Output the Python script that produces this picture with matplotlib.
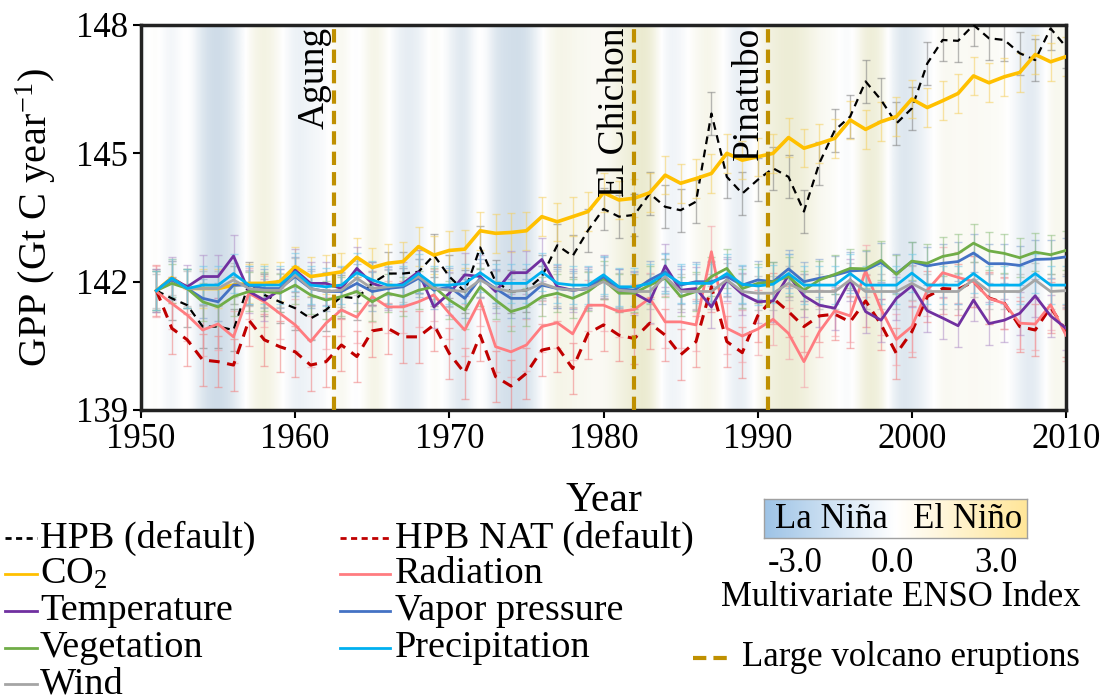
import numpy as np
import matplotlib
matplotlib.use('Agg')
import matplotlib.pyplot as plt
from matplotlib.colors import LinearSegmentedColormap
from matplotlib.lines import Line2D

plt.rcParams['font.family'] = ['Liberation Serif', 'DejaVu Serif']
plt.rcParams['mathtext.fontset'] = 'custom'
plt.rcParams['mathtext.rm'] = 'Liberation Serif'
plt.rcParams['mathtext.it'] = 'Liberation Serif:italic'

# --- data -----------------------------------------------------------------
years = np.arange(1951, 2011)

hpb = [141.79, 141.61, 141.45, 140.95, 140.95, 140.87, 141.96, 141.69, 141.53, 141.38,
       141.14, 141.34, 141.65, 141.61, 141.96, 142.19, 142.19, 142.23, 142.62, 142.12,
       141.77, 142.80, 142.00, 141.77, 141.80, 142.12, 142.85, 142.60, 143.20, 143.70,
       143.52, 143.56, 144.06, 143.75, 143.67, 143.87, 145.93, 144.45, 144.06, 144.38,
       144.65, 144.45, 143.64, 144.77, 145.54, 145.86, 146.68, 146.25, 145.70, 146.05,
       147.10, 147.65, 147.63, 148.00, 147.69, 147.65, 147.34, 147.18, 147.92, 147.49]
hpb_nat = [141.79, 140.91, 140.64, 140.17, 140.13, 140.05, 141.10, 140.64, 140.48, 140.36,
           140.05, 140.13, 140.52, 140.25, 140.85, 140.91, 140.71, 140.71, 140.99, 140.32,
           139.86, 140.75, 139.78, 139.56, 139.86, 140.40, 140.48, 139.97, 140.79, 140.99,
           140.75, 140.67, 141.03, 140.75, 140.29, 140.60, 141.88, 140.60, 140.34, 141.20,
           141.61, 141.30, 140.95, 141.20, 141.24, 141.06, 141.55, 141.00, 140.32, 140.83,
           141.65, 141.84, 141.82, 142.00, 141.62, 141.50, 140.95, 140.87, 141.40, 140.85]
co2 = [141.79, 142.09, 141.84, 141.84, 141.84, 141.92, 141.96, 141.96, 142.00, 142.35,
       142.12, 142.17, 142.23, 142.57, 142.33, 142.43, 142.47, 142.82, 142.62, 142.73,
       142.76, 143.19, 143.13, 143.15, 143.19, 143.52, 143.40, 143.52, 143.64, 144.08,
       143.91, 143.95, 144.08, 144.49, 144.30, 144.41, 144.53, 145.00, 144.84, 144.92,
       145.00, 145.37, 145.12, 145.23, 145.35, 145.78, 145.56, 145.74, 145.86, 146.27,
       146.07, 146.23, 146.40, 146.81, 146.65, 146.79, 146.89, 147.31, 147.14, 147.26]
radiation = [141.77, 141.49, 141.22, 140.87, 141.01, 140.71, 141.73, 141.53, 141.26, 140.99,
             140.60, 141.03, 141.34, 141.17, 141.65, 141.41, 141.41, 141.53, 141.69, 141.26,
             140.87, 141.57, 140.48, 140.36, 140.52, 140.95, 141.04, 140.78, 141.45, 141.45,
             141.30, 141.35, 141.61, 141.06, 141.06, 140.99, 142.70, 140.91, 140.73, 140.89,
             141.12, 140.79, 140.13, 140.83, 141.32, 141.20, 142.25, 141.36, 140.65, 140.95,
             141.80, 142.21, 142.10, 142.00, 141.61, 141.49, 141.03, 141.01, 141.46, 140.75]
temperature = [141.79, 142.08, 141.88, 142.12, 142.12, 142.60, 141.77, 141.57, 141.80, 142.27,
               141.96, 141.96, 141.84, 142.31, 141.96, 141.84, 141.96, 142.23, 141.41, 141.73,
               142.16, 142.12, 141.77, 142.21, 142.21, 142.52, 141.88, 141.80, 141.84, 142.12,
               141.80, 141.73, 141.53, 142.37, 141.80, 141.84, 141.41, 142.04, 141.71, 141.53,
               141.55, 142.15, 141.67, 141.45, 141.38, 142.04, 141.30, 141.10, 141.61, 141.90,
               141.32, 141.15, 140.97, 141.57, 141.02, 141.10, 141.26, 141.67, 141.20, 140.91]
vapor = [141.79, 142.04, 141.84, 141.61, 141.53, 141.92, 141.92, 141.84, 141.84, 142.12,
         141.84, 141.77, 141.77, 141.96, 141.77, 141.84, 141.88, 142.08, 141.80, 141.88,
         141.61, 142.08, 141.84, 141.61, 141.61, 141.92, 141.84, 141.80, 141.84, 142.12,
         141.84, 141.80, 142.04, 142.23, 141.92, 142.00, 142.00, 142.12, 141.92, 142.04,
         142.00, 142.30, 142.00, 142.08, 142.15, 142.25, 142.27, 142.45, 142.19, 142.47,
         142.37, 142.43, 142.47, 142.67, 142.42, 142.42, 142.38, 142.52, 142.53, 142.58]
vegetation = [141.79, 141.96, 141.84, 141.53, 141.41, 141.65, 141.77, 141.77, 141.73, 141.92,
              141.69, 141.57, 141.65, 141.77, 141.53, 141.73, 141.65, 141.80, 141.88, 141.57,
              141.34, 141.88, 141.57, 141.30, 141.41, 141.65, 141.73, 141.61, 141.77, 142.04,
              141.73, 141.73, 141.92, 142.08, 141.65, 141.77, 142.12, 142.31, 141.84, 141.96,
              142.00, 142.12, 141.80, 142.04, 142.17, 142.31, 142.30, 142.50, 142.17, 142.48,
              142.43, 142.59, 142.66, 142.90, 142.72, 142.66, 142.56, 142.69, 142.63, 142.73]
precipitation = [141.79, 142.08, 141.84, 141.92, 141.92, 142.19, 141.92, 141.92, 141.92, 142.23,
                 141.92, 141.88, 141.92, 142.21, 142.04, 141.92, 141.92, 142.19, 141.92, 141.92,
                 141.96, 142.21, 141.96, 141.96, 141.96, 142.23, 141.96, 141.92, 141.92, 142.16,
                 141.88, 141.88, 141.96, 142.19, 141.96, 141.96, 141.96, 142.19, 141.94, 141.90,
                 141.94, 142.19, 141.92, 141.92, 141.92, 142.19, 141.92, 141.92, 141.92, 142.20,
                 141.92, 141.92, 141.92, 142.19, 141.92, 141.92, 141.92, 142.19, 141.92, 141.92]
wind = [141.79, 142.08, 141.84, 141.84, 141.84, 142.04, 141.84, 141.80, 141.80, 142.16,
        141.84, 141.77, 141.80, 142.08, 141.84, 141.88, 141.92, 142.12, 141.84, 141.80,
        141.77, 142.04, 141.84, 141.77, 141.80, 141.96, 141.84, 141.80, 141.84, 142.00,
        141.80, 141.77, 141.77, 142.12, 141.77, 141.77, 141.77, 142.04, 141.77, 141.73,
        141.73, 141.96, 141.77, 141.77, 141.77, 142.04, 141.77, 141.77, 141.77, 141.96,
        141.77, 141.77, 141.77, 142.05, 141.77, 141.77, 141.77, 142.04, 141.77, 141.79]

# ensemble spread (+/-) for each experiment
hpb_err = 0.5
hpb_nat_err = 0.6
co2_err = 0.45
radiation_err = 0.6
temperature_err = 0.5
vapor_err = 0.45
vegetation_err = 0.45
precipitation_err = 0.45
wind_err = 0.4

# yearly Multivariate ENSO Index, 1950-2010
mei_years = np.arange(1950, 2011)
mei = [-0.3, 0.3, -0.6, 0.4, -1.0, -1.3, -0.9, 0.3, 0.8, 0.2,
       -0.6, -0.3, -0.2, 0.6, -0.4, 0.8, 0.1, -0.7, -0.6, 0.4,
       -0.3, -1.1, 0.5, -1.0, -1.1, -1.2, 0.0, 0.6, 0.4, 0.3,
       0.2, 0.6, 1.0, 1.2, -0.5, -0.3, 0.3, 0.6, -0.2, -0.8,
       0.3, 0.8, 1.0, 0.8, 0.3, 0.2, -0.4, 1.0, 0.8, -0.9,
       -0.8, -0.3, 0.4, 0.2, 0.3, 0.2, 0.2, -0.5, -0.9, 0.5, 0.3]

volcano_names = ['Agung', 'El Chichon', 'Pinatubo']
volcano_years = [1962.5, 1982.0, 1990.7]

# (label, values, spread, line colour, bar colour, dashed, width)
series = [
    ('HPB (default)', hpb, hpb_err, '#000000', '#808080', True, 1.6),
    ('HPB NAT (default)', hpb_nat, hpb_nat_err, '#c00000', '#f08080', True, 2.2),
    ('CO$_2$', co2, co2_err, '#ffc000', '#f5d060', False, 2.6),
    ('Radiation', radiation, radiation_err, '#ff7c80', '#f4a0a8', False, 2.0),
    ('Temperature', temperature, temperature_err, '#7030a0', '#b090c8', False, 2.0),
    ('Vapor pressure', vapor, vapor_err, '#4472c4', '#80a0d0', False, 2.0),
    ('Vegetation', vegetation, vegetation_err, '#70ad47', '#90c080', False, 2.0),
    ('Wind', wind, wind_err, '#a5a5a5', '#b0b0b0', False, 2.0),
    ('Precipitation', precipitation, precipitation_err, '#00b0f0', '#70c8e8', False, 2.0),
]

W, H = 1109, 700
fig = plt.figure(figsize=(W / 100, H / 100), dpi=100)
ax = fig.add_axes([141 / W, 1 - 410 / H, 925 / W, 385 / H])


def fx(px):
    return px / W


def fy(py):
    return 1 - py / H


# ENSO shading behind the curves
bg_cmap = LinearSegmentedColormap.from_list('enso_bg', ['#88a9c6', '#ffffff', '#c8c67c'])
ax.imshow(np.array(mei)[None, :], extent=[mei_years[0] - 0.5, mei_years[-1] + 0.5, 139, 148],
          cmap=bg_cmap, vmin=-3, vmax=3, aspect='auto', interpolation='bicubic', zorder=0)

for name, vals, err, col, ecol, dashed, lw in series:
    ax.errorbar(years, vals, yerr=err, fmt='none', ecolor=ecol, elinewidth=1.0,
                capsize=3, capthick=1.0, alpha=0.55, zorder=2)
for name, vals, err, col, ecol, dashed, lw in series:
    ls = (0, (3.5, 2.5)) if dashed else '-'
    ax.plot(years, vals, color=col, lw=lw, linestyle=ls, zorder=3)

for name, yr in zip(volcano_names, volcano_years):
    ax.axvline(yr, color='#bf9000', lw=3, dashes=(3.2, 1.7), zorder=4)
    ax.text(yr - 0.15, 147.95, name, rotation=90, ha='right', va='top', fontsize=27, zorder=5)

ax.set_xlim(1950, 2010)
ax.set_ylim(139, 148)
ax.set_xticks(range(1950, 2011, 10))
ax.set_yticks([139, 142, 145, 148])
ax.tick_params(labelsize=25, width=1.5, length=6, direction='out')
for sp in ax.spines.values():
    sp.set_linewidth(2.5)
    sp.set_color('#222222')

ax.set_ylabel('GPP (Gt C year$^{-1}$)', fontsize=29)
ax.yaxis.set_label_coords(-0.09, 0.5)
ax.set_xlabel('Year', fontsize=30)
ax.xaxis.set_label_coords(0.5, -0.185)

# legend of the experiments, two columns
col_x = [(5, 37, 40), (340, 390, 395)]
row_y = [538, 574, 611, 648, 684]
order = [[0, 2, 4, 6, 7], [1, 3, 5, 8]]
for c, idxs in enumerate(order):
    x0, x1, xt = col_x[c]
    for r, i in enumerate(idxs):
        name, vals, err, col, ecol, dashed, lw = series[i]
        ls = (0, (2.2, 1.6)) if dashed else '-'
        fig.add_artist(Line2D([fx(x0), fx(x1)], [fy(row_y[r]), fy(row_y[r])],
                              color=col, lw=2.0, linestyle=ls, transform=fig.transFigure))
        fig.text(fx(xt), fy(row_y[r]), name, fontsize=27.5, ha='left', va='center')

# ENSO colour key
cax = fig.add_axes([fx(764), fy(538), fx(1027) - fx(764), fy(499) - fy(538)])
key_cmap = LinearSegmentedColormap.from_list('enso_key', ['#9dc3e6', '#ffffff', '#ffe699'])
cax.imshow(np.linspace(-3, 3, 256)[None, :], cmap=key_cmap, aspect='auto',
           extent=[-3, 3, 0, 1])
cax.set_xticks([])
cax.set_yticks([])
for sp in cax.spines.values():
    sp.set_color('#a0a0a0')
    sp.set_linewidth(1)
fig.text(fx(831), fy(519), 'La Niña', fontsize=25, ha='center', va='center')
fig.text(fx(968), fy(519), 'El Niño', fontsize=25, ha='center', va='center')
for lab, xc in zip(['-3.0', '0.0', '3.0'], [795, 892, 996]):
    fig.text(fx(xc), fy(563), lab, fontsize=25, ha='center', va='center')
fig.text(fx(901), fy(597), 'Multivariate ENSO Index', fontsize=25, ha='center', va='center')

fig.add_artist(Line2D([fx(693), fx(731)], [fy(658), fy(658)], color='#bf9000', lw=3,
                      dashes=(3.2, 1.7), transform=fig.transFigure))
fig.text(fx(742), fy(658), 'Large volcano eruptions', fontsize=25, ha='left', va='center')

fig.savefig('out.png', dpi=100, facecolor='white')
